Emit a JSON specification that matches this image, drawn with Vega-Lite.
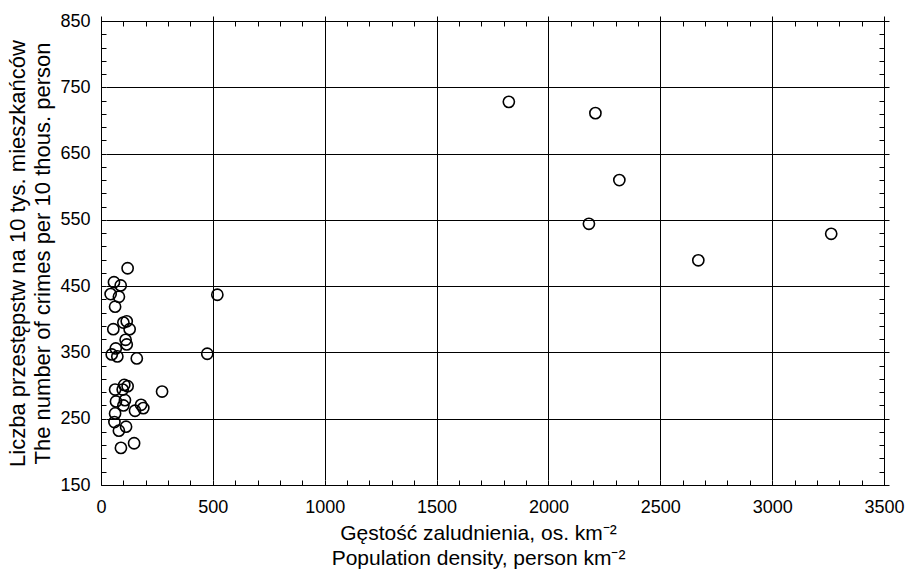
{
  "$schema": "https://vega.github.io/schema/vega-lite/v6.json",
  "width": 783,
  "height": 464,
  "autosize": "none",
  "padding": {"left": 101, "top": 21, "right": 21, "bottom": 89},
  "background": "white",
  "config": {
    "font": "Liberation Sans",
    "view": {"stroke": "black", "strokeWidth": 1},
    "axis": {
      "labelFont": "Liberation Sans",
      "titleFont": "Liberation Sans",
      "labelColor": "black",
      "titleColor": "black",
      "titleFontWeight": "normal",
      "domain": false,
      "tickColor": "black",
      "tickWidth": 1,
      "tickSize": 5,
      "offset": -5,
      "gridColor": "black",
      "gridWidth": 1,
      "labelOverlap": false,
      "labelFlush": false
    }
  },
  "data": {
    "values": [
      {"density": 1823, "crimes": 728},
      {"density": 2210, "crimes": 711},
      {"density": 2317, "crimes": 610},
      {"density": 2181, "crimes": 544},
      {"density": 2670, "crimes": 489},
      {"density": 3264, "crimes": 529},
      {"density": 119, "crimes": 477},
      {"density": 58, "crimes": 456},
      {"density": 88, "crimes": 451},
      {"density": 43, "crimes": 438},
      {"density": 80, "crimes": 434},
      {"density": 63, "crimes": 419},
      {"density": 115, "crimes": 397},
      {"density": 100, "crimes": 395},
      {"density": 55, "crimes": 385},
      {"density": 128, "crimes": 385},
      {"density": 110, "crimes": 369},
      {"density": 115, "crimes": 362},
      {"density": 66, "crimes": 356},
      {"density": 48, "crimes": 347},
      {"density": 73, "crimes": 344},
      {"density": 160, "crimes": 341},
      {"density": 475, "crimes": 348},
      {"density": 520, "crimes": 437},
      {"density": 273, "crimes": 291},
      {"density": 63, "crimes": 294},
      {"density": 104, "crimes": 301},
      {"density": 119, "crimes": 299},
      {"density": 97, "crimes": 294},
      {"density": 107, "crimes": 278},
      {"density": 67, "crimes": 276},
      {"density": 100, "crimes": 270},
      {"density": 179, "crimes": 271},
      {"density": 189, "crimes": 266},
      {"density": 152, "crimes": 262},
      {"density": 63, "crimes": 258},
      {"density": 60, "crimes": 245},
      {"density": 112, "crimes": 238},
      {"density": 80, "crimes": 232},
      {"density": 148, "crimes": 213},
      {"density": 89, "crimes": 206}
    ]
  },
  "layer": [
    {
      "mark": {"type": "point", "shape": "circle", "filled": false, "stroke": "black", "strokeWidth": 1.6, "size": 125, "opacity": 1},
      "encoding": {
        "x": {
          "field": "density", "type": "quantitative",
          "scale": {"domain": [0, 3500], "nice": false, "zero": false},
          "axis": {
            "orient": "bottom",
            "values": [0,100,200,300,400,500,600,700,800,900,1000,1100,1200,1300,1400,1500,1600,1700,1800,1900,2000,2100,2200,2300,2400,2500,2600,2700,2800,2900,3000,3100,3200,3300,3400,3500],
            "format": "d",
            "labelExpr": "datum.value % 500 == 0 ? datum.label : ''",
            "grid": true,
            "gridOpacity": {"condition": {"test": "datum.value % 500 == 0", "value": 1}, "value": 0},
            "labelPadding": 13,
            "labelFontSize": 18,
            "title": ["Gęstość zaludnienia, os. km⁻²", "Population density, person km⁻²"],
            "titleFontSize": 21,
            "titleLineHeight": 25,
            "titlePadding": 6,
            "titleX": 377
          }
        },
        "y": {
          "field": "crimes", "type": "quantitative",
          "scale": {"domain": [150, 850], "nice": false, "zero": false},
          "axis": {
            "orient": "left",
            "values": [150,170,190,210,230,250,270,290,310,330,350,370,390,410,430,450,470,490,510,530,550,570,590,610,630,650,670,690,710,730,750,770,790,810,830,850],
            "format": "d",
            "labelExpr": "(datum.value - 150) % 100 == 0 ? datum.label : ''",
            "grid": true,
            "gridOpacity": {"condition": {"test": "(datum.value - 150) % 100 == 0", "value": 1}, "value": 0},
            "labelPadding": 11,
            "labelFontSize": 18,
            "title": ["Liczba przestępstw na 10 tys. mieszkańców", "The number of crimes per 10 thous. person"],
            "titleFontSize": 22,
            "titleLineHeight": 25,
            "titlePadding": 5
          }
        }
      }
    },
    {
      "mark": {"type": "point", "opacity": 0},
      "encoding": {
        "x": {
          "field": "density", "type": "quantitative",
          "scale": {"domain": [0, 3500], "nice": false, "zero": false},
          "axis": {
            "orient": "top",
            "values": [0,100,200,300,400,500,600,700,800,900,1000,1100,1200,1300,1400,1500,1600,1700,1800,1900,2000,2100,2200,2300,2400,2500,2600,2700,2800,2900,3000,3100,3200,3300,3400,3500],
            "labels": false,
            "grid": false,
            "title": null
          }
        },
        "y": {
          "field": "crimes", "type": "quantitative",
          "scale": {"domain": [150, 850], "nice": false, "zero": false},
          "axis": {
            "orient": "right",
            "values": [150,170,190,210,230,250,270,290,310,330,350,370,390,410,430,450,470,490,510,530,550,570,590,610,630,650,670,690,710,730,750,770,790,810,830,850],
            "labels": false,
            "grid": false,
            "title": null
          }
        }
      }
    }
  ],
  "resolve": {"axis": {"x": "independent", "y": "independent"}}
}
